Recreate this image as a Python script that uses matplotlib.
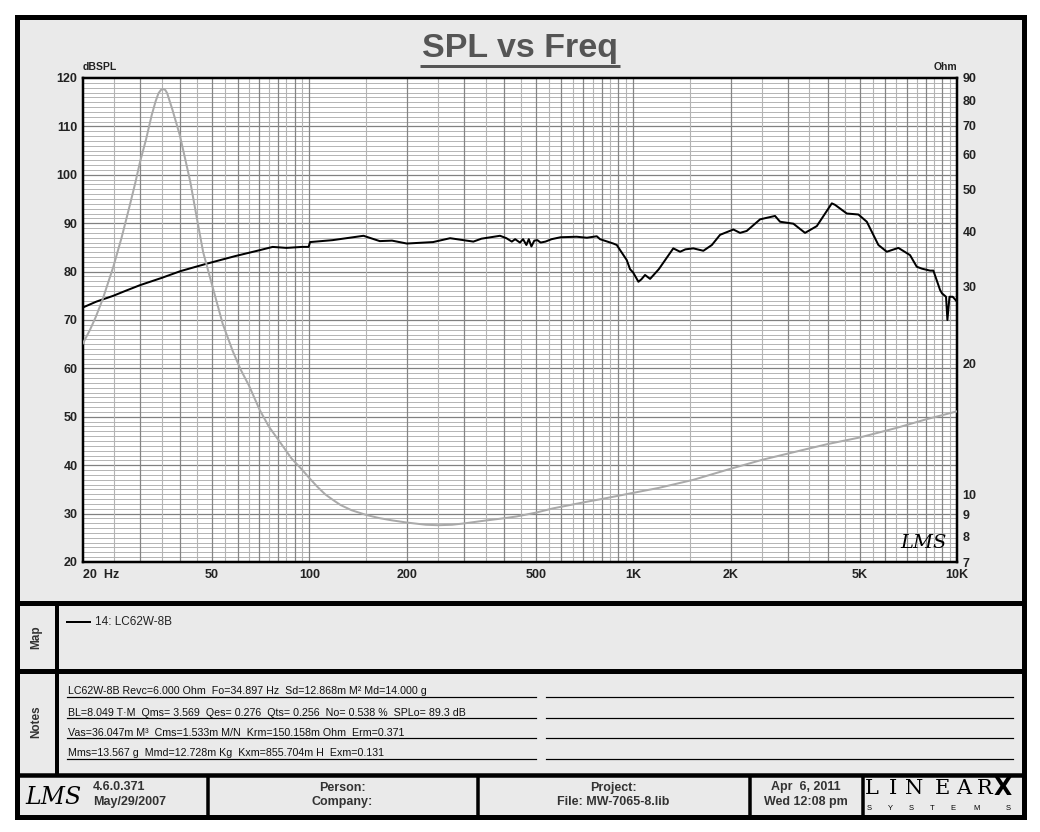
import matplotlib
matplotlib.use('Agg')
import matplotlib.pyplot as plt
import numpy as np
from matplotlib.patches import Rectangle
from matplotlib.ticker import FixedLocator, NullLocator, FixedFormatter

# ---------------- data ----------------
spl_freq = [20, 22, 24.8, 27, 30, 35, 40, 48, 59, 70, 77, 85, 95, 99.5, 100.5, 118, 147,
            165, 180, 200, 241, 272, 321, 340, 388, 406, 422, 432, 447, 457, 468, 476,
            485, 495, 506, 518, 536, 560, 597, 669, 720, 772, 790, 868, 890, 910, 955,
            978, 1000, 1038, 1060, 1088, 1128, 1200, 1330, 1396, 1450, 1534, 1647, 1750,
            1855, 2039, 2138, 2242, 2466, 2742, 2842, 3124, 3394, 3690, 4106, 4200, 4568,
            4960, 5266, 5718, 6070, 6592, 7162, 7512, 7800, 8258, 8454, 8866, 8990, 9250,
            9340, 9480, 9700, 10000]
spl_db = [72.6, 73.8, 75.0, 76.0, 77.2, 78.7, 80.1, 81.6, 83.2, 84.4, 85.1, 84.9, 85.1,
          85.1, 86.1, 86.5, 87.4, 86.3, 86.4, 85.8, 86.1, 86.9, 86.2, 86.8, 87.4, 86.9,
          86.2, 86.7, 86.0, 86.7, 85.5, 86.7, 85.2, 86.4, 86.5, 86.0, 86.2, 86.7, 87.1,
          87.2, 87.0, 87.3, 86.7, 85.8, 85.5, 84.5, 82.4, 80.5, 79.8, 77.9, 78.4, 79.3,
          78.5, 80.5, 84.8, 84.1, 84.6, 84.8, 84.3, 85.5, 87.6, 88.7, 88.0, 88.4, 90.8,
          91.5, 90.3, 89.9, 88.0, 89.4, 94.1, 93.8, 92.0, 91.8, 90.3, 85.5, 84.1, 84.9,
          83.4, 81.0, 80.6, 80.2, 80.2, 76.2, 75.5, 74.8, 70.0, 74.8, 74.8, 73.8]

imp_freq = [20, 21, 21.9, 23, 24.8, 26.3, 27.9, 29, 30, 31.3, 32.6, 33.5, 34.2, 34.8, 35.3,
            35.9, 36.4, 37.8, 38.5, 39.8, 41.3, 42.9, 44.8, 47, 50.5, 54, 58, 61.4, 65,
            70.3, 75, 81.6, 88, 94.9, 100, 106, 112, 118.6, 125, 135, 150, 165, 180, 200,
            229, 250, 276, 300, 345, 400, 436, 500, 566, 650, 719, 800, 978, 1200, 1534,
            2000, 2500, 3280, 4000, 5000, 6500, 8000, 10000]
imp_ohm = [22.2, 23.8, 25.5, 28.0, 33.2, 38.7, 46.0, 51.7, 57.8, 65.0, 74.0, 79.5, 83.0,
           84.5, 84.9, 84.5, 83.0, 76.0, 72.5, 66.6, 59.0, 52.0, 43.5, 35.9, 29.5, 24.6,
           21.3, 19.3, 17.8, 15.6, 14.3, 13.1, 12.1, 11.4, 10.9, 10.4, 10.0, 9.7, 9.45,
           9.2, 8.97, 8.82, 8.72, 8.62, 8.52, 8.5, 8.52, 8.58, 8.7, 8.82, 8.9, 9.08, 9.29,
           9.48, 9.62, 9.76, 10.05, 10.35, 10.8, 11.45, 12.0, 12.6, 13.05, 13.5, 14.2, 14.85,
           15.5]

x_ticks = [20, 50, 100, 200, 500, 1000, 2000, 5000, 10000]
x_tick_labels = ["20  Hz", "50", "100", "200", "500", "1K", "2K", "5K", "10K"]
left_ticks = [20, 30, 40, 50, 60, 70, 80, 90, 100, 110, 120]
right_ticks = [7, 8, 9, 10, 20, 30, 40, 50, 60, 70, 80, 90]

title_text = "SPL vs Freq"
legend_label = "14: LC62W-8B"
notes_lines = [
    "LC62W-8B Revc=6.000 Ohm  Fo=34.897 Hz  Sd=12.868m M\u00b2 Md=14.000 g",
    "BL=8.049 T\u00b7M  Qms= 3.569  Qes= 0.276  Qts= 0.256  No= 0.538 %  SPLo= 89.3 dB",
    "Vas=36.047m M\u00b3  Cms=1.533m M/N  Krm=150.158m Ohm  Erm=0.371",
    "Mms=13.567 g  Mmd=12.728m Kg  Kxm=855.704m H  Exm=0.131",
]
version_lines = ["4.6.0.371", "May/29/2007"]
person_lines = ["Person:", "Company:"]
project_lines = ["Project:", "File: MW-7065-8.lib"]
date_lines = ["Apr  6, 2011", "Wed 12:08 pm"]

# ---------------- figure ----------------
W, H = 1040, 832
FONT = ['Liberation Sans', 'DejaVu Sans']
plt.rcParams['font.family'] = FONT
fig = plt.figure(figsize=(W / 100, H / 100), dpi=100)
fig.patch.set_facecolor('white')
PT = 0.72  # points per pixel

bg = fig.add_axes([0, 0, 1, 1])
bg.set_xlim(0, W)
bg.set_ylim(H, 0)
bg.axis('off')
bg.set_zorder(0)

panel = '#eaeaea'
bg.add_patch(Rectangle((16.5, 16.5), 1007.7, 800.5, facecolor=panel, edgecolor='black',
                       lw=5 * PT))
# section separators
for y in (602.5, 670.5):
    bg.plot([16.5, 1024.2], [y, y], color='black', lw=5 * PT, solid_capstyle='butt')
bg.plot([16.5, 1024.2], [775, 775], color='black', lw=4.5 * PT, solid_capstyle='butt')
bg.plot([57, 57], [602.5, 775], color='black', lw=4 * PT, solid_capstyle='butt')
for x in (208, 478, 750, 863):
    bg.plot([x, x], [775, 817], color='black', lw=3.5 * PT, solid_capstyle='butt')

# title
bg.text(520, 48, title_text, ha='center', va='center', fontsize=24.5, fontweight='bold',
        color='#555555')
bg.plot([420, 620], [65.5, 65.5], color='#555555', lw=3 * PT, solid_capstyle='butt')
bg.text(83, 67, "dBSPL", ha='left', va='center', fontsize=7.5, fontweight='bold',
        color='#222222')
bg.text(957, 67, "Ohm", ha='right', va='center', fontsize=7.5, fontweight='bold',
        color='#222222')

# map section
bg.text(36, 637, "Map", rotation=90, ha='center', va='center', fontsize=8.5,
        fontweight='bold', color='#333333')
bg.plot([67, 90], [622, 622], color='black', lw=2 * PT)
bg.text(95, 622, legend_label, ha='left', va='center', fontsize=8.5, color='#222222')

# notes section
bg.text(36, 722, "Notes", rotation=90, ha='center', va='center', fontsize=8.5,
        fontweight='bold', color='#333333')
under_y = [697, 718, 738, 759]
for y, line in zip(under_y, notes_lines):
    bg.text(68, y - 2.5, line, ha='left', va='baseline', fontsize=7.7, color='#111111')
    bg.plot([67, 536], [y, y], color='black', lw=1.2 * PT)
    bg.plot([546, 1013], [y, y], color='black', lw=1.2 * PT)

# footer
bg.text(53, 797, "LMS", ha='center', va='center', fontsize=17, fontstyle='italic',
        family='DejaVu Serif', color='black')
for y, t in zip((787, 802), version_lines):
    bg.text(93, y, t, ha='left', va='center', fontsize=9, fontweight='bold', color='#333333')
for y, t in zip((788, 802), person_lines):
    bg.text(342, y, t, ha='center', va='center', fontsize=9, fontweight='bold',
            color='#333333')
for y, t in zip((788, 802), project_lines):
    bg.text(613, y, t, ha='center', va='center', fontsize=9, fontweight='bold',
            color='#333333')
for y, t in zip((787, 802), date_lines):
    bg.text(806, y, t, ha='center', va='center', fontsize=9, fontweight='bold',
            color='#333333')
logo_x = [872, 893, 914, 942, 964, 985]
for x, ch in zip(logo_x, "LINEAR"):
    bg.text(x, 788, ch, ha='center', va='center', fontsize=15, family='DejaVu Serif',
            fontweight='light', color='black')
bg.text(1003, 788, "X", ha='center', va='center', fontsize=17, fontweight='heavy',
        family='DejaVu Sans', color='black')
sys_x = [869, 890, 911, 932, 953, 977, 1008]
for x, ch in zip(sys_x, "SYSTEMS"):
    bg.text(x, 808, ch, ha='center', va='center', fontsize=5.5, color='black')

# ---------------- chart ----------------
L, R, T, B = 83, 957, 78, 562
ax = fig.add_axes([L / W, 1 - B / H, (R - L) / W, (B - T) / H])
ax.set_zorder(2)
ax.set_facecolor('white')
ax.set_xscale('log')
ax.set_xlim(20, 10000)
ax.set_ylim(20, 120)

# grid
for v in range(21, 120):
    if v % 10:
        ax.axhline(v, color='#b4b4b4', lw=0.7, zorder=1)
for v in range(30, 120, 10):
    ax.axhline(v, color='#808080', lw=0.9, zorder=1)
vlines = np.concatenate([np.arange(25, 100, 5), np.arange(150, 1000, 50),
                         np.arange(1500, 10000, 500)])
for v in vlines:
    dec = 10 ** np.floor(np.log10(v))
    major = abs(v / dec - round(v / dec)) < 1e-9
    ax.axvline(v, color='#858585' if major else '#b4b4b4', lw=0.9 if major else 0.8,
               zorder=1)
for v in (100, 1000):
    ax.axvline(v, color='#858585', lw=0.9, zorder=1)

ax.plot(spl_freq, spl_db, color='black', lw=2 * PT, zorder=4)

ax.xaxis.set_major_locator(FixedLocator(x_ticks))
ax.xaxis.set_major_formatter(FixedFormatter(x_tick_labels))
ax.xaxis.set_minor_locator(NullLocator())
ax.yaxis.set_major_locator(FixedLocator(left_ticks))
ax.yaxis.set_minor_locator(NullLocator())
ax.tick_params(axis='both', length=0, labelsize=9, labelcolor='#222222')
ax.tick_params(axis='x', pad=5)
ax.tick_params(axis='y', pad=4)
for lab in ax.get_xticklabels() + ax.get_yticklabels():
    lab.set_fontweight('bold')
first = ax.get_xticklabels()[0]
first.set_ha('left')
for s in ax.spines.values():
    s.set_linewidth(2.5 * PT)
    s.set_color('black')
    s.set_zorder(6)

ax2 = ax.twinx()
ax2.set_zorder(3)
ax2.patch.set_visible(False)
ax2.set_yscale('log')
ax2.set_ylim(7, 90)
ax2.plot(imp_freq, imp_ohm, color='#aaaaaa', lw=2 * PT, zorder=3)
ax2.yaxis.set_major_locator(FixedLocator(right_ticks))
ax2.yaxis.set_major_formatter(FixedFormatter([str(v) for v in right_ticks]))
ax2.yaxis.set_minor_locator(NullLocator())
ax2.tick_params(axis='y', length=0, labelsize=9, labelcolor='#222222', pad=4)
for lab in ax2.get_yticklabels():
    lab.set_fontweight('bold')
for s in ax2.spines.values():
    s.set_visible(False)

# LMS watermark inside plot
ax.text(0.962, 0.04, "LMS", transform=ax.transAxes, ha='center', va='center',
        fontsize=14, fontstyle='italic', family='DejaVu Serif', color='black', zorder=7)

fig.savefig('out.png', dpi=100, facecolor='white')
